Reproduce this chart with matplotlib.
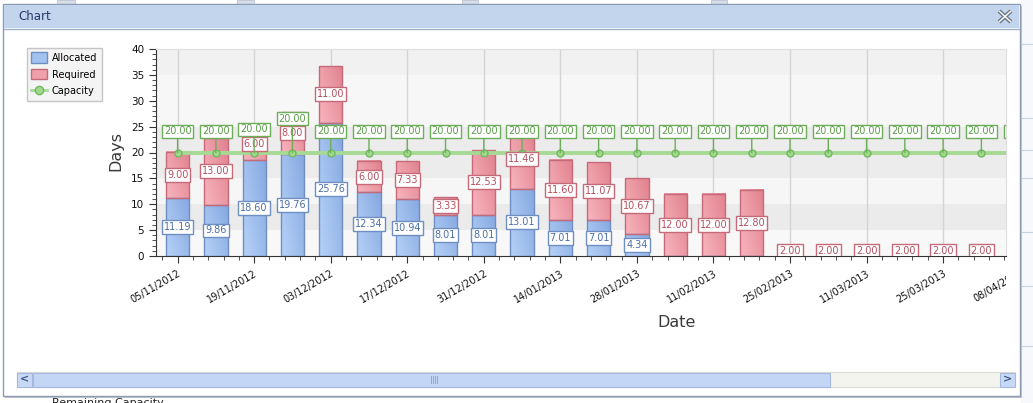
import numpy as np
import matplotlib
matplotlib.use('Agg')
import matplotlib.pyplot as plt
import matplotlib.dates as mdates
from matplotlib.patches import Rectangle, Patch
from matplotlib.lines import Line2D
from matplotlib.colors import LinearSegmentedColormap
from matplotlib.ticker import FixedLocator, MultipleLocator, AutoMinorLocator
from matplotlib.transforms import Bbox, TransformedBbox, blended_transform_factory
from datetime import datetime

# weekly data
weeks = ["05/11/2012", "12/11/2012", "19/11/2012", "26/11/2012", "03/12/2012",
         "10/12/2012", "17/12/2012", "24/12/2012", "31/12/2012", "07/01/2013",
         "14/01/2013", "21/01/2013", "28/01/2013", "04/02/2013", "11/02/2013",
         "18/02/2013", "25/02/2013", "04/03/2013", "11/03/2013", "18/03/2013",
         "25/03/2013", "01/04/2013", "08/04/2013"]
allocated = [11.19, 9.86, 18.60, 19.76, 25.76, 12.34, 10.94, 8.01, 8.01, 13.01,
             7.01, 7.01, 4.34, 0, 0, 0, 0, 0, 0, 0, 0, 0, 0]
required = [9.00, 13.00, 6.00, 8.00, 11.00, 6.00, 7.33, 3.33, 12.53, 11.46,
            11.60, 11.07, 10.67, 12.00, 12.00, 12.80, 2.00, 2.00, 2.00, 2.00,
            2.00, 2.00, 2.00]
capacity = [20, 20, 20, 20, 20, 20, 20, 20, 20, 20, 20, 20, 20, 20, 20, 20,
            20, 20, 20, 20, 20, 20, 20]
# capacity labels that were pushed up to avoid overlaps (extra pixels)
cap_lift = {"19/11/2012": 2, "26/11/2012": 13}

W, H = 1033, 403
fig = plt.figure(figsize=(W / 100, H / 100), dpi=100, facecolor='white')


def px_rect(x, y, w, h, **kw):
    r = Rectangle((x / W, 1 - (y + h) / H), w / W, h / H,
                  transform=fig.transFigure, **kw)
    fig.add_artist(r)
    return r


def px_line(xs, ys, **kw):
    l = Line2D([x / W for x in xs], [1 - y / H for y in ys],
               transform=fig.transFigure, **kw)
    fig.add_artist(l)


# --- window chrome ---
px_rect(1021, 0, 12, 403, facecolor='#f6f8fb', edgecolor='none', zorder=-5)
for yy in [44, 118, 150, 178, 232, 286, 346]:
    px_line([1022, 1033], [yy, yy], color='#c9d2de', lw=0.8, zorder=-4)
for xx, ww in [(57, 18), (237, 17), (462, 16), (711, 16)]:
    px_rect(xx, 0, ww, 4, facecolor='#d7dee9', edgecolor='#b9c3d2', lw=0.6, zorder=-5)
px_rect(5, 6, 1017, 392, facecolor='#c4c8ce', edgecolor='none', zorder=-4)
px_rect(3, 4, 1017, 392, facecolor='white', edgecolor='#8d9bb0', lw=1, zorder=-3)
px_rect(4, 5, 1015, 23, facecolor='#c3d5ec', edgecolor='none', zorder=-2)
px_line([4, 1019], [28.5, 28.5], color='#9fb2cc', lw=1, zorder=-1)
fig.text(18 / W, 1 - 16.5 / H, "Chart", fontsize=8.5, color='#25396b',
         va='center', ha='left')
px_line([999, 1011], [11, 22], color='#6c7889', lw=3, solid_capstyle='butt', zorder=2)
px_line([999, 1011], [22, 11], color='#6c7889', lw=3, solid_capstyle='butt', zorder=2)
px_line([999.5, 1010.5], [11.5, 21.5], color='white', lw=1, zorder=3)
px_line([999.5, 1010.5], [21.5, 11.5], color='white', lw=1, zorder=3)

# scrollbar
px_rect(17, 372, 998, 15, facecolor='#f4f4ef', edgecolor='#dcdcd6', lw=0.8, zorder=-1)
px_rect(33, 372.5, 797, 14, facecolor='#c3d6f6', edgecolor='#a3b9e0', lw=0.8, zorder=0.5)
px_rect(17, 372.5, 15, 14, facecolor='#c8d9f5', edgecolor='#a3b9e0', lw=0.8, zorder=0.5)
px_rect(1000, 372.5, 15, 14, facecolor='#c8d9f5', edgecolor='#a3b9e0', lw=0.8, zorder=0.5)
fig.text(24.5 / W, 1 - 379.5 / H, "<", fontsize=8, color='#3f5686', weight='bold',
         ha='center', va='center')
fig.text(1007.5 / W, 1 - 379.5 / H, ">", fontsize=8, color='#3f5686', weight='bold',
         ha='center', va='center')
for gx in [431, 433, 435, 437]:
    px_line([gx, gx], [376, 383], color='#8ea6d4', lw=0.7, zorder=1)
fig.text(52 / W, 1 - 403 / H, "Remaining Capacity", fontsize=8, color='#222222',
         ha='left', va='center')

# --- plot area ---
ax = fig.add_axes([156 / W, 1 - 256 / H, 850 / W, 207 / H])
ax.set_zorder(1)

dates = [mdates.date2num(datetime.strptime(d, "%d/%m/%Y")) for d in weeks]
x0 = dates[0]
ax.set_xlim(x0 - 3.95, x0 + 151.5)
ax.set_ylim(0, 40)

bands = [(0, 5, '#f8f8f8'), (5, 10, '#ebebeb'), (10, 15, '#f6f6f6'),
         (15, 25, '#ececec'), (25, 35, '#f7f7f7'), (35, 40, '#f1f1f1')]
for lo, hi, c in bands:
    ax.axhspan(lo, hi, color=c, zorder=0, lw=0)

ax.xaxis.set_major_locator(FixedLocator(dates[::2]))
ax.xaxis.set_minor_locator(AutoMinorLocator(5))
ax.xaxis.set_major_formatter(mdates.DateFormatter("%d/%m/%Y"))
ax.yaxis.set_major_locator(MultipleLocator(5))
ax.yaxis.set_minor_locator(MultipleLocator(1))
ax.grid(axis='x', which='major', color='#d4d4d4', lw=1, zorder=0.5)
ax.set_axisbelow(True)

blue_cm = LinearSegmentedColormap.from_list('b', ['#b5d2f7', '#86a8e1'])
red_cm = LinearSegmentedColormap.from_list('r', ['#f8b5be', '#e1828f'])
gx, gy = np.meshgrid(np.linspace(0, 1, 30), np.linspace(0, 1, 30))
grad = 0.6 * gx + 0.4 * gy

bw = 4.26
b_alloc = ax.bar(dates, allocated, width=bw, facecolor='none',
                 edgecolor='#6f8fc3', lw=1, zorder=2.5)
b_req = ax.bar(dates, required, bottom=allocated, width=bw, facecolor='none',
               edgecolor='#c56a78', lw=1, zorder=2.5)
for bars, cm in [(b_alloc, blue_cm), (b_req, red_cm)]:
    for b in bars:
        if b.get_height() <= 0:
            continue
        bx, by, bww, bh = b.get_x(), b.get_y(), b.get_width(), b.get_height()
        im = ax.imshow(grad, cmap=cm, extent=(bx, bx + bww, by, by + bh),
                       origin='lower', aspect='auto', interpolation='bilinear',
                       zorder=2.4)
        im.set_clip_path(b)
        im.set_clip_box(ax.bbox)

green = '#6cae59'
ax.plot(dates, capacity, color='#a6d994', lw=2.8, zorder=3,
        marker='o', ms=5, mfc='#9fd98a', mec='#73b860', mew=1)

ax.set_xlim(x0 - 3.95, x0 + 151.5)
ax.set_ylim(0, 40)


def box(ec):
    return dict(boxstyle='square,pad=0.2', fc='white', ec=ec, lw=1)


for d, a, r in zip(dates, allocated, required):
    if a > 0:
        ax.text(d, a / 2, f"{a:.2f}", ha='center', va='center', fontsize=7,
                color='#4d6ea6', bbox=box('#6f8fc3'), zorder=4, clip_on=True)
    if r > 0:
        ax.text(d, a + r / 2, f"{r:.2f}", ha='center', va='center', fontsize=7,
                color='#b4505f', bbox=box('#c56a78'), zorder=4, clip_on=True)

for w, d, c in zip(weeks, dates, capacity):
    ann = ax.annotate(f"{c:.2f}", xy=(d, c), xytext=(0, 21 + cap_lift.get(w, 0)),
                      textcoords='offset pixels', ha='center', va='center',
                      fontsize=7, color='#5a9c48', bbox=box(green), zorder=5,
                      annotation_clip=False,
                      arrowprops=dict(arrowstyle='-', color=green, lw=1,
                                      shrinkA=0, shrinkB=0))
    ann.set_clip_box(ax.bbox)
    ann.arrow_patch.set_clip_box(ax.bbox)

for s in ['left', 'bottom']:
    ax.spines[s].set_color('#333333')
for s in ['top', 'right']:
    ax.spines[s].set_color('#dedede')
ax.tick_params(axis='both', which='major', length=5, color='#333333',
               labelsize=7.5, labelcolor='#111111')
ax.tick_params(axis='both', which='minor', length=3, color='#333333')
ax.tick_params(axis='x', which='major', pad=4, labelsize=7)
plt.setp(ax.get_xticklabels(), rotation=30, ha='right', rotation_mode='anchor')

# last date label only partly inside the scroll window
last = ax.text(dates[-1], -11 / 207, "08/04/2013", fontsize=7, color='#111111',
               rotation=30, ha='right', va='top', rotation_mode='anchor',
               transform=blended_transform_factory(ax.transData, ax.transAxes))
last.set_clip_path(None)
last.set_clip_box(TransformedBbox(Bbox.from_extents(0, 0, 1006 / W, 1), fig.transFigure))
last.set_clip_on(True)

ax.set_ylabel("Days", fontsize=11.5, color='#3a3a3a')
ax.yaxis.set_label_coords(-0.038, 0.505)
ax.set_xlabel("Date", fontsize=11.5, color='#3a3a3a', va='top')
ax.xaxis.set_label_coords(0.612, -0.285)

handles = [Patch(facecolor='#a2c3f0', edgecolor='#6f8fc3'),
           Patch(facecolor='#f0a0ab', edgecolor='#c56a78'),
           Line2D([0], [0], color='#a6d994', lw=2, marker='o', ms=6,
                  mfc='#9fd98a', mec='#73b860')]
leg = fig.legend(handles, ["Allocated", "Required", "Capacity"], loc='upper left',
                 bbox_to_anchor=(27 / W, 1 - 48 / H), fontsize=7, fancybox=False,
                 edgecolor='#c6c6c6', facecolor='#f4f4f4', framealpha=1,
                 borderpad=0.45, handlelength=1.6, handleheight=1.25,
                 labelspacing=0.65, handletextpad=0.5, borderaxespad=0)
leg.get_frame().set_linewidth(1)
leg.set_zorder(6)

fig.savefig("out.png", dpi=100, facecolor=fig.get_facecolor())
